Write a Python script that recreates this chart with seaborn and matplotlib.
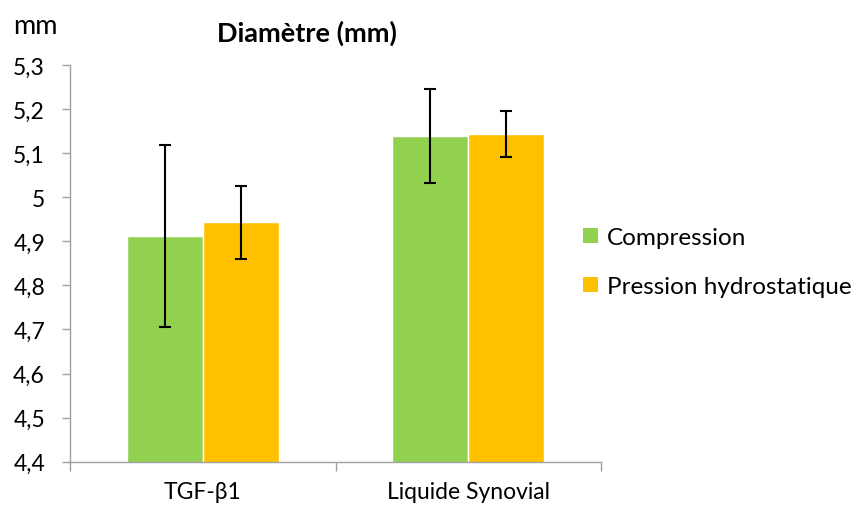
import numpy as np
import pandas as pd
import matplotlib
matplotlib.use("Agg")
import matplotlib.pyplot as plt
from matplotlib.ticker import FuncFormatter, FixedLocator
from matplotlib.patches import Patch
import seaborn as sns

categories = ["TGF-β1", "Liquide Synovial"]
series = ["Compression", "Pression hydrostatique"]
compression = [4.912, 5.139]
pression = [4.943, 5.144]
compression_err = [0.206, 0.106]
pression_err = [0.083, 0.052]
yticks = [4.4, 4.5, 4.6, 4.7, 4.8, 4.9, 5.0, 5.1, 5.2, 5.3]
colors = {"Compression": "#92D050", "Pression hydrostatique": "#FFC000"}

sns.set_theme(style="white")
plt.rcParams["font.family"] = ["Lato", "DejaVu Sans"]
plt.rcParams["text.color"] = "black"

df = pd.DataFrame({
    "cat": categories * 2,
    "serie": [series[0]] * 2 + [series[1]] * 2,
    "val": compression + pression,
    "err": compression_err + pression_err,
})

fig = plt.figure(figsize=(8.57, 5.06), dpi=100)
ax = fig.add_axes([70 / 857, 1 - 462.7 / 506, 531 / 857, (462.7 - 66) / 506])

sns.barplot(data=df, x="cat", y="val", hue="serie", palette=colors,
            order=categories, hue_order=series, errorbar=None,
            width=0.573, saturation=1, ax=ax, legend=False)

# error bars at the bar centres
bars = [p for p in ax.patches if p.get_height() != 0]
errs = compression_err + pression_err
for p, e in zip(bars, errs):
    xc = p.get_x() + p.get_width() / 2
    ax.errorbar(xc, p.get_height() + p.get_y(), yerr=e, fmt="none",
                ecolor="black", elinewidth=1.5, capsize=4.3, capthick=1.5)

ax.set_ylim(4.4, 5.3)
ax.set_xlim(-0.5, 1.5)
ax.set_yticks(yticks)
ax.yaxis.set_major_formatter(FuncFormatter(lambda v, _: f"{v:g}".replace(".", ",")))
ax.set_xlabel("")
ax.set_ylabel("")

axis_col = "#A0A0A0"
for s in ["top", "right"]:
    ax.spines[s].set_visible(False)
for s in ["left", "bottom"]:
    ax.spines[s].set_color(axis_col)
    ax.spines[s].set_linewidth(1.0)

ax.tick_params(axis="y", which="major", left=True, length=6, width=1.0,
               color=axis_col, direction="out", pad=12, labelsize=16.5,
               labelcolor="black")
ax.tick_params(axis="x", which="major", bottom=False, length=0, pad=14,
               labelsize=16.5, labelcolor="black")
ax.xaxis.set_minor_locator(FixedLocator([-0.5, 0.5, 1.5]))
ax.tick_params(axis="x", which="minor", bottom=True, length=6.5, width=1.0,
               color=axis_col, direction="out")

fig.text(307 / 857, 1 - 33 / 506, "Diamètre (mm)", ha="center", va="center",
         fontsize=19.5, fontweight="bold", color="black")
fig.text(13 / 857, 1 - 27 / 506, "mm", ha="left", va="center", fontsize=19.5,
         color="black")

handles = [Patch(facecolor=colors[s], edgecolor="none") for s in series]
leg = fig.legend(handles, series, loc="center left",
                 bbox_to_anchor=(583 / 857, 1 - 263 / 506), frameon=False,
                 fontsize=17.5, handlelength=0.62, handleheight=0.62,
                 handletextpad=0.35, labelspacing=1.15, borderpad=0,
                 borderaxespad=0)
for t in leg.get_texts():
    t.set_color("black")

fig.savefig("out.png", dpi=100)
